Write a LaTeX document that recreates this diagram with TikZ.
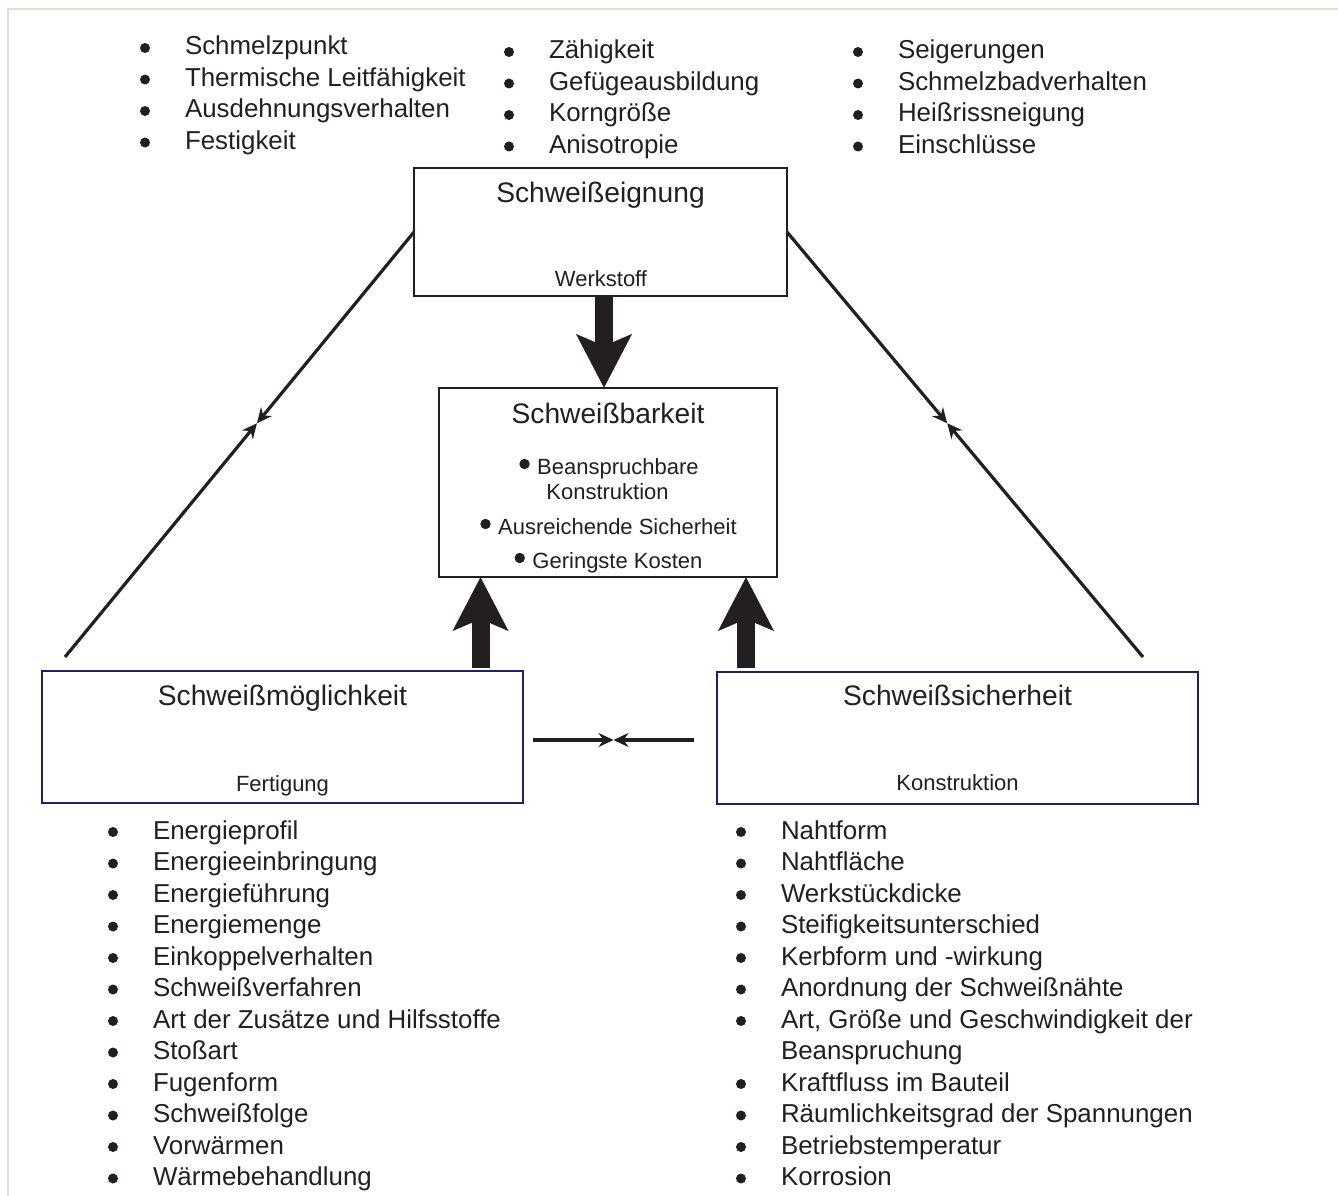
\documentclass[tikz,border=0pt]{standalone}
\usepackage{fontspec}
\setmainfont{Liberation Sans}
\usetikzlibrary{arrows.meta,calc}
\definecolor{ink}{RGB}{35,31,32}
\definecolor{navy}{RGB}{32,32,98}
\definecolor{framecol}{RGB}{236,218,208}
\newcommand{\bul}{\tikz[baseline=0pt]\fill[ink] (0pt,7pt) circle[radius=5pt];}
\newcommand{\bulb}{\tikz[baseline=0pt]\fill[ink] (0pt,10.5pt) circle[radius=5.2pt];}
\begin{document}
\begin{tikzpicture}[x=1pt,y=-1pt,
  every node/.style={text=ink, inner sep=0pt, outer sep=0pt},
  listnode/.style={font=\fontsize{25.9}{31.5}\selectfont, anchor=base west},
  titletext/.style={font=\fontsize{28.2}{34}\selectfont, anchor=base},
  subtext/.style={font=\fontsize{22}{26}\selectfont, anchor=base},
  topbox/.style={draw=ink, line width=2pt, fill=white, rectangle},
  lowbox/.style={draw=navy, line width=2pt, fill=white, rectangle},
  fat/.style={draw=ink, fill=ink, line width=18pt, -{Stealth[length=53pt,width=54pt,inset=11pt]}},
  slim/.style={draw=ink, line width=3.2pt, -{Stealth[length=15pt,width=14pt,inset=5pt]}}
]
\useasboundingbox (0,0) rectangle (1338,1196);
% frame
\draw[framecol, line width=2.5pt] (8,1196) -- (8,9) -- (1338,9);

% top lists
\node[listnode] (tl) at (140,55) {\begin{tabular}[t]{@{}l@{}}
\bul\hspace{35pt}Schmelzpunkt\\
\bul\hspace{35pt}Thermische Leitfähigkeit\\
\bul\hspace{35pt}Ausdehnungsverhalten\\
\bul\hspace{35pt}Festigkeit
\end{tabular}};
\node[listnode] (tm) at (504,59) {\begin{tabular}[t]{@{}l@{}}
\bul\hspace{35pt}Zähigkeit\\
\bul\hspace{35pt}Gefügeausbildung\\
\bul\hspace{35pt}Korngröße\\
\bul\hspace{35pt}Anisotropie
\end{tabular}};
\node[listnode] (tr) at (853,59) {\begin{tabular}[t]{@{}l@{}}
\bul\hspace{35pt}Seigerungen\\
\bul\hspace{35pt}Schmelzbadverhalten\\
\bul\hspace{35pt}Heißrissneigung\\
\bul\hspace{35pt}Einschlüsse
\end{tabular}};

% boxes
\node[topbox, minimum width=373pt, minimum height=128pt] (eig) at (600.5,232) {};
\node[titletext] (eigT) at (600.5,202) {Schweißeignung};
\node[subtext] (eigS) at (601,286.5) {Werkstoff};

\node[topbox, minimum width=338pt, minimum height=189pt] (bar) at (608,482.5) {};
\node[titletext] (barT) at (608,423) {Schweißbarkeit};
\node[subtext] (bar1) at (609,474.5) {\bulb\hspace{7.5pt}Beanspruchbare};
\node[subtext] (bar2) at (607.5,499.5) {Konstruktion};
\node[subtext] (bar3) at (608.5,534.5) {\bulb\hspace{7.5pt}Ausreichende Sicherheit};
\node[subtext] (bar4) at (608.5,568.5) {\bulb\hspace{7.5pt}Geringste Kosten};

\node[lowbox, minimum width=481pt, minimum height=132pt] (mog) at (282.5,737) {};
\node[titletext] (mogT) at (282.5,705) {Schweißmöglichkeit};
\node[subtext] (mogS) at (282.5,791.5) {Fertigung};

\node[lowbox, minimum width=481pt, minimum height=132pt] (sich) at (957.5,738) {};
\node[titletext] (sichT) at (957.5,705.5) {Schweißsicherheit};
\node[subtext] (sichS) at (957.5,790) {Konstruktion};

% bottom lists
\node[listnode] (bl) at (108,839) {\begin{tabular}[t]{@{}l@{}}
\bul\hspace{35pt}Energieprofil\\
\bul\hspace{35pt}Energieeinbringung\\
\bul\hspace{35pt}Energieführung\\
\bul\hspace{35pt}Energiemenge\\
\bul\hspace{35pt}Einkoppelverhalten\\
\bul\hspace{35pt}Schweißverfahren\\
\bul\hspace{35pt}Art der Zusätze und Hilfsstoffe\\
\bul\hspace{35pt}Stoßart\\
\bul\hspace{35pt}Fugenform\\
\bul\hspace{35pt}Schweißfolge\\
\bul\hspace{35pt}Vorwärmen\\
\bul\hspace{35pt}Wärmebehandlung
\end{tabular}};
\node[listnode] (br) at (736,839) {\begin{tabular}[t]{@{}l@{}}
\bul\hspace{35pt}Nahtform\\
\bul\hspace{35pt}Nahtfläche\\
\bul\hspace{35pt}Werkstückdicke\\
\bul\hspace{35pt}Steifigkeitsunterschied\\
\bul\hspace{35pt}Kerbform und -wirkung\\
\bul\hspace{35pt}Anordnung der Schweißnähte\\
\bul\hspace{35pt}Art, Größe und Geschwindigkeit der\\
\hspace{45pt}Beanspruchung\\
\bul\hspace{35pt}Kraftfluss im Bauteil\\
\bul\hspace{35pt}Räumlichkeitsgrad der Spannungen\\
\bul\hspace{35pt}Betriebstemperatur\\
\bul\hspace{35pt}Korrosion
\end{tabular}};

% fat arrows
\draw[fat] ([xshift=3.5pt]eig.south) -- ([xshift=3.5pt]eig.south |- bar.north);
\coordinate (fm) at ($(mog.north east)+(-42.5,-3)$);
\draw[fat] (fm) -- (fm |- bar.south);
\coordinate (fs) at ($(sich.north west)+(29,-4)$);
\draw[fat] (fs) -- (fs |- bar.south);

% slim arrows
\coordinate (la) at ($(mog.north west)+(23,-14)$);
\coordinate (lm) at ($(la)!0.55!(eig.west)$);
\draw[slim] (la) -- (lm);
\draw[slim] (eig.west) -- (lm);

\coordinate (ra) at ($(sich.north east)+(-55,-15)$);
\coordinate (rm) at ($(ra)!0.55!(eig.east)$);
\draw[slim] (ra) -- (rm);
\draw[slim] (eig.east) -- (rm);

\coordinate (ha) at ($(mog.east)+(10,3)$);
\coordinate (hb) at ($(sich.west)+(-23,2)$);
\coordinate (hm) at ($(ha)!0.5!(hb)$);
\draw[slim] (ha) -- (hm);
\draw[slim] (hb) -- (hm);
\end{tikzpicture}
\end{document}
